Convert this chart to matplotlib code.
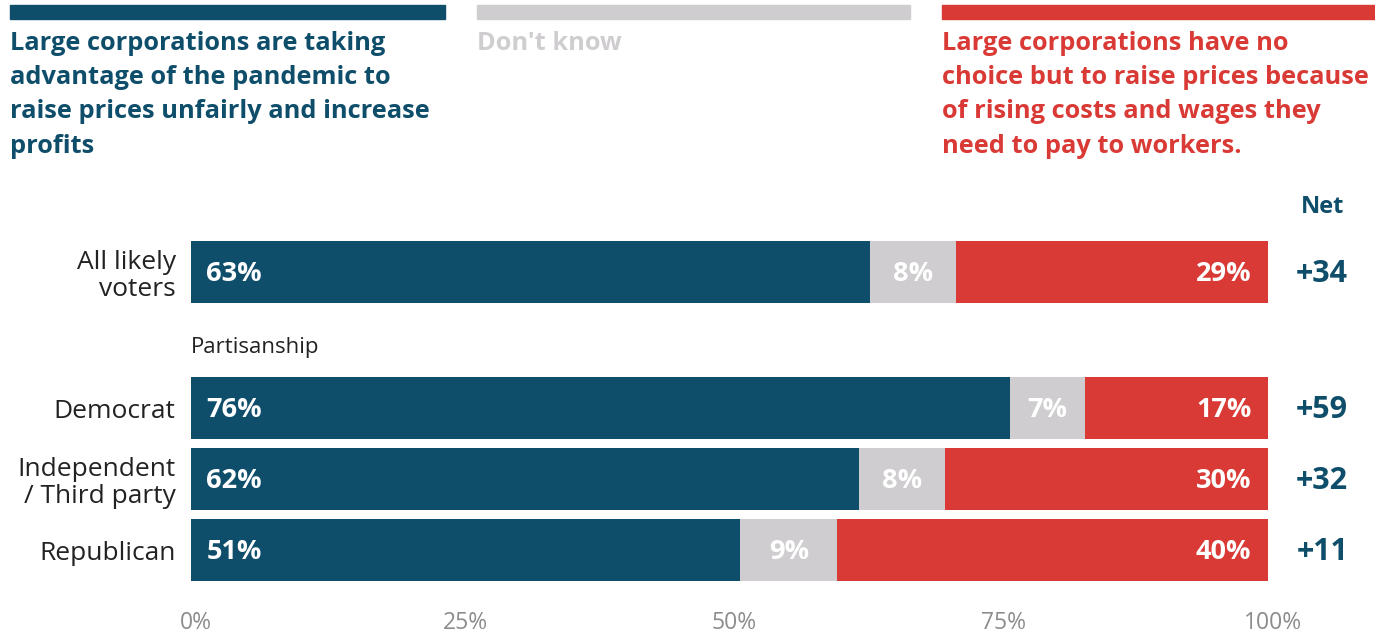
import matplotlib
matplotlib.use("Agg")
import matplotlib.pyplot as plt
import matplotlib.transforms as mtrans
import numpy as np

# ---- data ----
categories = ["All likely\nvoters", "Democrat", "Independent\n/ Third party", "Republican"]
unfair = [63, 76, 62, 51]
dont_know = [8, 7, 8, 9]
no_choice = [29, 17, 30, 40]
tick_values = [0, 25, 50, 75, 100]
tick_labels = ["0%", "25%", "50%", "75%", "100%"]
legend_labels = [
    "Large corporations are taking\nadvantage of the pandemic to\nraise prices unfairly and increase\nprofits",
    "Don't know",
    "Large corporations have no\nchoice but to raise prices because\nof rising costs and wages they\nneed to pay to workers.",
]
group_label = "Partisanship"
net_header = "Net"

# ---- style ----
BLUE = "#0f4e6b"
GRAY = "#d0cdd0"
RED = "#d93a35"
FONT = ["Open Sans", "DejaVu Sans"]
plt.rcParams["font.family"] = FONT

W, H = 1375, 633
fig = plt.figure(figsize=(W / 100, H / 100), dpi=100)

def fx(px):
    return px / W

def fy(py):
    return 1 - py / H

# axes placement (pixels)
ax_left, ax_right, ax_top, ax_bottom = 191, 1268, 236, 586
ax = fig.add_axes([fx(ax_left), fy(ax_bottom), fx(ax_right - ax_left), (ax_bottom - ax_top) / H])

# y positions: row index with an extra gap after the first row
n = len(categories)
gap = 0.915
ypos = []
for i in range(n):
    ypos.append((n - 1 - i) + (gap if i == 0 else 0))
ypos = np.array(ypos)
bh = 0.873

unfair_a = np.array(unfair)
dk_a = np.array(dont_know)
nc_a = np.array(no_choice)

ax.barh(ypos, unfair_a, height=bh, color=BLUE, left=0)
ax.barh(ypos, dk_a, height=bh, color=GRAY, left=unfair_a)
ax.barh(ypos, nc_a, height=bh, color=RED, left=unfair_a + dk_a)

ax.set_xlim(0, 100)
ax.set_ylim(-36 / 71, (550 - 236) / 71)

lab_fs = 19.5
dy = -1.5
for y, u, d, c in zip(ypos, unfair_a, dk_a, nc_a):
    ax.annotate(f"{u}%", (0, y), xytext=(11, dy), textcoords="offset points",
                ha="left", va="center", color="white", fontsize=lab_fs, fontweight="bold")
    ax.annotate(f"{d}%", (u + d / 2, y), xytext=(0, dy), textcoords="offset points",
                ha="center", va="center",
                color="white", fontsize=lab_fs, fontweight="bold")
    ax.annotate(f"{c}%", (100, y), xytext=(-12, dy), textcoords="offset points",
                ha="right", va="center", color="white", fontsize=lab_fs, fontweight="bold")
    ax.annotate(f"+{u - c}", (100, y), xytext=(39, dy), textcoords="offset points",
                ha="center", va="center", color=BLUE, fontsize=22, fontweight="bold")

ax.annotate(net_header, (100, ypos[0]), xytext=(39, 47), textcoords="offset points",
            ha="center", va="center", color=BLUE, fontsize=17, fontweight="bold")

ax.set_yticks(ypos)
ax.set_yticklabels(categories, fontsize=19, color="#222222", linespacing=1.1)
ax.tick_params(axis="y", length=0, pad=11)
ax.set_xticks(tick_values)
ax.set_xticklabels(tick_labels, fontsize=16.5, color="#8c8c8c")
ax.tick_params(axis="x", length=0, pad=18)
shift = mtrans.ScaledTranslation(5 / 100, 0, fig.dpi_scale_trans)
for t in ax.get_xticklabels():
    t.set_transform(t.get_transform() + shift)
for s in ax.spines.values():
    s.set_visible(False)

# group label
ax.annotate(group_label, (0, (ypos[0] + ypos[1]) / 2 - 0.1), ha="left", va="center",
            fontsize=16, color="#222222")

# ---- legend at top ----
leg_x = [(10, 445), (477, 910), (942, 1375)]
leg_colors = [BLUE, GRAY, RED]
for (x0, x1), col, lab in zip(leg_x, leg_colors, legend_labels):
    fig.patches.append(plt.Rectangle((fx(x0), fy(19)), fx(x1 - x0), 14 / H,
                                     transform=fig.transFigure, color=col, zorder=1))
    fig.text(fx(x0), fy(30.5), lab, ha="left", va="top", color=col,
             fontsize=18.3, fontweight="bold", linespacing=1.5)

fig.savefig("out.png", dpi=100)
